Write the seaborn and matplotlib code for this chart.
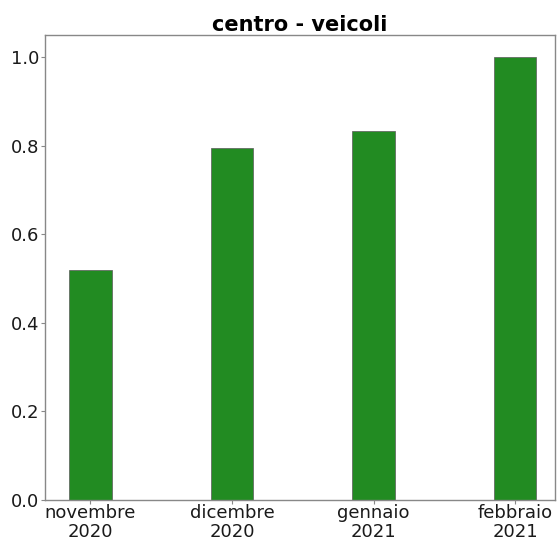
import pandas as pd
import numpy as np
import matplotlib
matplotlib.use('Agg')
import matplotlib.pyplot as plt
import seaborn as sns

sns.set_style('white')

months = ['novembre\n2020', 'dicembre\n2020', 'gennaio\n2021', 'febbraio\n2021']
values = [0.519, 0.795, 0.833, 1.0]

df = pd.DataFrame({'mese': months, 'valore': values})

fig = plt.figure(figsize=(5.57, 5.43), dpi=100)
ax = fig.add_axes([0.081, 0.079, 0.915, 0.857])
sns.barplot(data=df, x='mese', y='valore', color='#228B22', saturation=1,
            width=0.3, edgecolor='#5a5a5a', linewidth=0.5, ax=ax)
ax.set_xlim(-0.32, 3.28)
ax.set_ylim(0, 1.05)
ax.set_xlabel('')
ax.set_ylabel('')
ax.set_title('centro - veicoli', fontsize=15, fontweight='bold', pad=3, color='black')
ax.tick_params(axis='both', labelsize=13, length=3, pad=1, bottom=True, left=True,
               color='#888888', labelcolor='#1a1a1a')
ax.tick_params(axis='x', pad=0)
for lbl in ax.get_xticklabels():
    lbl.set_linespacing(1.05)
for s in ax.spines.values():
    s.set_color('#888888')
    s.set_linewidth(1)
ax.set_yticks(np.arange(0, 1.01, 0.2))
fig.savefig('out.png', dpi=100)
